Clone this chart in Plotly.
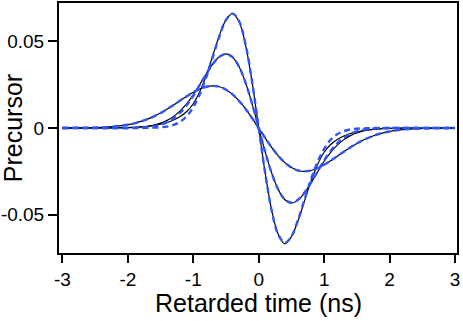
import plotly.graph_objects as go

# retarded time (ns)
t_ns = [-3.0, -2.9, -2.8, -2.7, -2.6, -2.5, -2.4, -2.3, -2.2, -2.1,
        -2.0, -1.9, -1.8, -1.7, -1.6, -1.5, -1.4, -1.3, -1.2, -1.1,
        -1.0, -0.9, -0.8, -0.7, -0.6, -0.5, -0.4, -0.3, -0.2, -0.1,
        0.0,
        0.1, 0.2, 0.3, 0.4, 0.5, 0.6, 0.7, 0.8, 0.9, 1.0,
        1.1, 1.2, 1.3, 1.4, 1.5, 1.6, 1.7, 1.8, 1.9, 2.0,
        2.1, 2.2, 2.3, 2.4, 2.5, 2.6, 2.7, 2.8, 2.9, 3.0]

# measured precursors (black)
meas_narrow = [0, 0, 0, 0, 0, 0, 0, 0, .0001, .0002,
               .0003, .0004, .0007, .0010, .0015, .0022, .0032, .0046, .0066, .0095,
               .0140, .0210, .0306, .0420, .0535, .0624, .0660, .0613, .0477, .0262,
               0,
               -.0262, -.0477, -.0614, -.0668, -.0626, -.0536, -.0420, -.0306, -.0210, -.0140,
               -.0095, -.0066, -.0046, -.0032, -.0022, -.0015, -.0010, -.0007, -.0004, -.0003,
               -.0002, -.0001, 0, 0, 0, 0, 0, 0, 0, 0]
meas_mid = [0, 0, 0, 0, 0, 0, 0, 0, 0, .0001,
            .0002, .0003, .0006, .0010, .0017, .0028, .0044, .0067, .0099, .0140,
            .0191, .0251, .0313, .0370, .0411, .0427, .0409, .0353, .0260, .0138,
            0,
            -.0139, -.0262, -.0356, -.0414, -.0433, -.0416, -.0374, -.0316, -.0253, -.0192,
            -.0140, -.0099, -.0067, -.0044, -.0028, -.0017, -.0010, -.0006, -.0003, -.0002,
            -.0001, 0, 0, 0, 0, 0, 0, 0, 0, 0]
meas_wide = [0, 0, .0001, .0001, .0001, .0002, .0004, .0006, .0009, .0014,
             .0019, .0027, .0038, .0051, .0067, .0086, .0109, .0133, .0158, .0183,
             .0206, .0225, .0238, .0243, .0238, .0221, .0194, .0156, .0110, .0056,
             0,
             -.0058, -.0113, -.0161, -.0200, -.0228, -.0245, -.0250, -.0245, -.0232, -.0212,
             -.0189, -.0163, -.0137, -.0112, -.0089, -.0069, -.0053, -.0039, -.0028, -.0020,
             -.0014, -.0009, -.0006, -.0004, -.0003, -.0002, -.0001, -.0001, 0, 0]

# model fits (blue dashed)
fit_narrow = [0, 0, 0, 0, 0, 0, 0, 0, 0, 0,
              0, 0, 0, .0001, .0002, .0004, .0008, .0018, .0036, .0068,
              .0120, .0195, .0295, .0412, .0530, .0623, .0660, .0616, .0480, .0264,
              0,
              -.0264, -.0480, -.0616, -.0662, -.0625, -.0531, -.0412, -.0295, -.0195, -.0120,
              -.0068, -.0036, -.0018, -.0008, -.0004, -.0002, -.0001, 0, 0, 0,
              0, 0, 0, 0, 0, 0, 0, 0, 0, 0]
fit_mid = [0, 0, 0, 0, 0, 0, 0, 0, 0, 0,
           0, .0001, .0002, .0005, .0010, .0019, .0034, .0056, .0088, .0132,
           .0186, .0249, .0312, .0370, .0411, .0427, .0409, .0353, .0260, .0138,
           0,
           -.0139, -.0262, -.0356, -.0413, -.0431, -.0414, -.0372, -.0314, -.0250, -.0187,
           -.0132, -.0088, -.0056, -.0034, -.0019, -.0010, -.0005, -.0002, -.0001, 0,
           0, 0, 0, 0, 0, 0, 0, 0, 0, 0]
fit_wide = [0, 0, .0001, .0001, .0001, .0002, .0004, .0006, .0009, .0014,
            .0019, .0027, .0038, .0051, .0067, .0086, .0109, .0133, .0158, .0183,
            .0206, .0225, .0238, .0243, .0238, .0221, .0194, .0156, .0110, .0056,
            0,
            -.0058, -.0113, -.0161, -.0200, -.0228, -.0245, -.0250, -.0245, -.0232, -.0212,
            -.0189, -.0163, -.0137, -.0112, -.0089, -.0069, -.0053, -.0039, -.0028, -.0020,
            -.0014, -.0009, -.0006, -.0004, -.0003, -.0002, -.0001, -.0001, 0, 0]

x_tickvals = [-3, -2, -1, 0, 1, 2, 3]
x_ticktext = ["-3", "-2", "-1", "0", "1", "2", "3"]
y_tickvals = [0.05, 0, -0.05]
y_ticktext = ["0.05", "0", "-0.05"]

fig = go.Figure()
for y in [meas_narrow, meas_mid, meas_wide]:
    fig.add_trace(go.Scatter(x=t_ns, y=y, mode="lines", line=dict(color="black", width=1.2, shape="spline"),
                             showlegend=False))
for y in [fit_narrow, fit_mid, fit_wide]:
    fig.add_trace(go.Scatter(x=t_ns, y=y, mode="lines",
                             line=dict(color="#2d55f8", width=2.4, dash="6px,4px", shape="spline"),
                             showlegend=False))

font_family = "Liberation Sans, Arial"
tick_font = dict(family=font_family, size=19, color="black")
title_font = dict(family=font_family, size=25, color="black")
fig.update_layout(
    width=463, height=321,
    margin=dict(l=59, r=6, t=3, b=68),
    plot_bgcolor="white", paper_bgcolor="white",
    xaxis=dict(
        range=[-3.052, 3.03], tickvals=x_tickvals, ticktext=x_ticktext, automargin=False,
        showgrid=False, zeroline=False, showline=True, mirror=True, linecolor="black", linewidth=2,
        ticks="outside", ticklen=8, tickwidth=1.5, tickcolor="black", tickfont=tick_font,
    ),
    yaxis=dict(
        range=[-0.0721, 0.0721], tickvals=y_tickvals, ticktext=y_ticktext, automargin=False,
        showgrid=False, zeroline=False, showline=True, mirror=True, linecolor="black", linewidth=2,
        ticks="outside", ticklen=9, tickwidth=1.5, tickcolor="black", tickfont=tick_font,
    ),
    annotations=[
        dict(text="Retarded time (ns)", xref="paper", yref="paper", x=0.502, y=-0.2,
             xanchor="center", yanchor="middle", showarrow=False, font=title_font),
        dict(text="Precursor", xref="paper", yref="paper", x=-0.115, y=0.5, textangle=-90,
             xanchor="center", yanchor="middle", showarrow=False, font=title_font),
    ],
)
# the page's default body margin would shift the 463x321 figure inside the window
fig.write_html("out.html", config={"displayModeBar": False},
               post_script="document.body.style.margin = '0px';")
